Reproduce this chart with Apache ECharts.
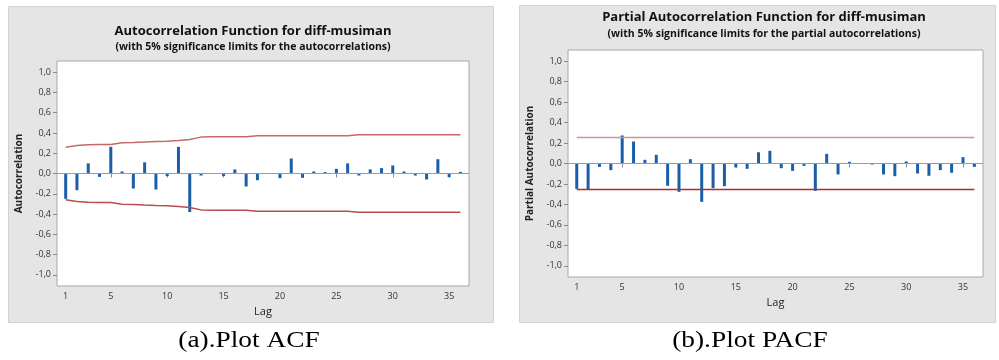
<!DOCTYPE html>
<html>
<head>
<meta charset="utf-8">
<script src="https://cdn.jsdelivr.net/npm/echarts@6/dist/echarts.min.js"></script>
<style>
html,body{margin:0;padding:0;background:#fff;}
#c{width:999px;height:360px;}
</style>
</head>
<body>
<div id="c"></div>
<script>
// ---- data ----
var lags = [1,2,3,4,5,6,7,8,9,10,11,12,13,14,15,16,17,18,19,20,21,22,23,24,25,26,27,28,29,30,31,32,33,34,35,36];
var acfValues = [-0.25,-0.165,0.10,-0.033,0.263,0.02,-0.148,0.11,-0.158,-0.026,0.263,-0.38,-0.02,0.003,-0.026,0.04,-0.128,-0.066,0.002,-0.046,0.148,-0.043,0.02,0.014,0.046,0.10,-0.02,0.04,0.053,0.079,0.02,-0.02,-0.059,0.141,-0.036,0.016];
var acfLimit = [0.26,0.276,0.283,0.286,0.286,0.303,0.306,0.312,0.316,0.319,0.326,0.336,0.359,0.362,0.362,0.362,0.362,0.372,0.372,0.372,0.372,0.372,0.372,0.372,0.372,0.372,0.382,0.382,0.382,0.382,0.382,0.382,0.382,0.382,0.382,0.382];
var pacfValues = [-0.248,-0.252,-0.033,-0.065,0.274,0.215,0.036,0.085,-0.218,-0.277,0.042,-0.375,-0.241,-0.222,-0.039,-0.052,0.11,0.124,-0.046,-0.072,-0.023,-0.267,0.094,-0.107,0.016,0.002,-0.01,-0.107,-0.124,0.02,-0.098,-0.12,-0.065,-0.091,0.062,-0.033];
var pacfLimit = 0.254;
var xTicks = [1,5,10,15,20,25,30,35];
var yTicks = [-1,-0.8,-0.6,-0.4,-0.2,0,0.2,0.4,0.6,0.8,1];
var titles = {
  acf: 'Autocorrelation Function for diff-musiman',
  acfSub: '(with 5% significance limits for the autocorrelations)',
  pacf: 'Partial Autocorrelation Function for diff-musiman',
  pacfSub: '(with 5% significance limits for the partial autocorrelations)',
  acfY: 'Autocorrelation',
  pacfY: 'Partial Autocorrelation',
  x: 'Lag',
  capA: '(a).Plot ACF',
  capB: '(b).Plot PACF'
};

// ---- build ----
var FONT = 'Open Sans';
function fmt(v){ return (Math.round(v*10)/10).toFixed(1).replace('.', ','); }
function xAxis(gi){
  return {
    type:'value', gridIndex:gi, min:0.23, max:36.76,
    name:titles.x, nameLocation:'middle', nameGap:20,
    nameTextStyle:{fontFamily:FONT, fontSize:11, color:'#222'},
    axisLine:{show:false}, splitLine:{show:false},
    axisTick:{show:true, customValues:xTicks, length:4, lineStyle:{color:'#8a8a8a'}},
    axisLabel:{customValues:xTicks, fontFamily:FONT, fontSize:9, color:'#333', margin:6}
  };
}
function yAxis(gi, name){
  return {
    type:'value', gridIndex:gi, min:-1.11, max:1.11,
    name:name, nameLocation:'middle', nameGap:33,
    nameTextStyle:{fontFamily:FONT, fontSize:10, fontWeight:'bold', color:'#222'},
    axisLine:{show:false}, splitLine:{show:false},
    axisTick:{show:true, customValues:yTicks, length:4, lineStyle:{color:'#8a8a8a'}},
    axisLabel:{customValues:yTicks, formatter:fmt, fontFamily:FONT, fontSize:9, color:'#333', margin:6}
  };
}
var acfBars = lags.map(function(l,i){return [l, acfValues[i]];});
var acfUp = lags.map(function(l,i){return [l, acfLimit[i]];});
var acfLo = lags.map(function(l,i){return [l, -acfLimit[i]];});
var pacfBars = lags.map(function(l,i){return [l, pacfValues[i]];});
var pacfUp = [[lags[0], pacfLimit],[lags[lags.length-1], pacfLimit]];
var pacfLo = [[lags[0], -pacfLimit],[lags[lags.length-1], -pacfLimit]];

var zeroLine = {silent:true, symbol:['none','none'], label:{show:false},
  lineStyle:{color:'#9c9c9c', width:1, type:'solid'}, data:[{yAxis:0}]};
var BAR = '#1a5fa8';

var option = {
  animation:false,
  graphic:{elements:[
    {type:'rect', z:-100, shape:{x:8.5,y:6.5,width:485,height:316}, style:{fill:'#e5e5e5', stroke:'#d2d2d2', lineWidth:1}},
    {type:'rect', z:-100, shape:{x:519.5,y:5.5,width:476,height:317}, style:{fill:'#e5e5e5', stroke:'#d2d2d2', lineWidth:1}},
    {type:'text', z:10, x:249, y:341, scaleX:1.14, style:{text:titles.capA, font:'24px "Liberation Serif"', fill:'#000', textAlign:'center', textVerticalAlign:'middle'}},
    {type:'text', z:10, x:750, y:341, scaleX:1.14, style:{text:titles.capB, font:'24px "Liberation Serif"', fill:'#000', textAlign:'center', textVerticalAlign:'middle'}}
  ]},
  title:[
    {text:titles.acf, left:248, top:20, textAlign:'center', textStyle:{fontFamily:FONT, fontSize:13, fontWeight:'bold', color:'#111'}},
    {text:titles.acfSub, left:248, top:37, textAlign:'center', textStyle:{fontFamily:FONT, fontSize:10.5, fontWeight:'bold', color:'#111'}},
    {text:titles.pacf, left:759, top:6, textAlign:'center', textStyle:{fontFamily:FONT, fontSize:13, fontWeight:'bold', color:'#111'}},
    {text:titles.pacfSub, left:759, top:24, textAlign:'center', textStyle:{fontFamily:FONT, fontSize:10.5, fontWeight:'bold', color:'#111'}}
  ],
  grid:[
    {left:57, top:61, width:412, height:225, show:true, backgroundColor:'#fff', borderColor:'#a8a8a8', borderWidth:1},
    {left:568, top:50, width:415, height:227, show:true, backgroundColor:'#fff', borderColor:'#a8a8a8', borderWidth:1}
  ],
  xAxis:[xAxis(0), xAxis(1)],
  yAxis:[yAxis(0, titles.acfY), yAxis(1, titles.pacfY)],
  series:[
    {type:'bar', xAxisIndex:0, yAxisIndex:0, data:acfBars, barWidth:3, itemStyle:{color:BAR}, markLine:zeroLine, z:3},
    {type:'line', xAxisIndex:0, yAxisIndex:0, data:acfUp, symbol:'none', lineStyle:{color:'#c56a6a', width:1.5}, z:4},
    {type:'line', xAxisIndex:0, yAxisIndex:0, data:acfLo, symbol:'none', lineStyle:{color:'#b94d4d', width:1.5}, z:4},
    {type:'bar', xAxisIndex:1, yAxisIndex:1, data:pacfBars, barWidth:3, itemStyle:{color:BAR}, markLine:zeroLine, z:3},
    {type:'line', xAxisIndex:1, yAxisIndex:1, data:pacfUp, symbol:'none', lineStyle:{color:'#d09494', width:1.5}, z:4},
    {type:'line', xAxisIndex:1, yAxisIndex:1, data:pacfLo, symbol:'none', lineStyle:{color:'#a83030', width:1.5}, z:4}
  ]
};
var chart = echarts.init(document.getElementById('c'), null, {renderer:'canvas'});
chart.setOption(option);
</script>
</body>
</html>
